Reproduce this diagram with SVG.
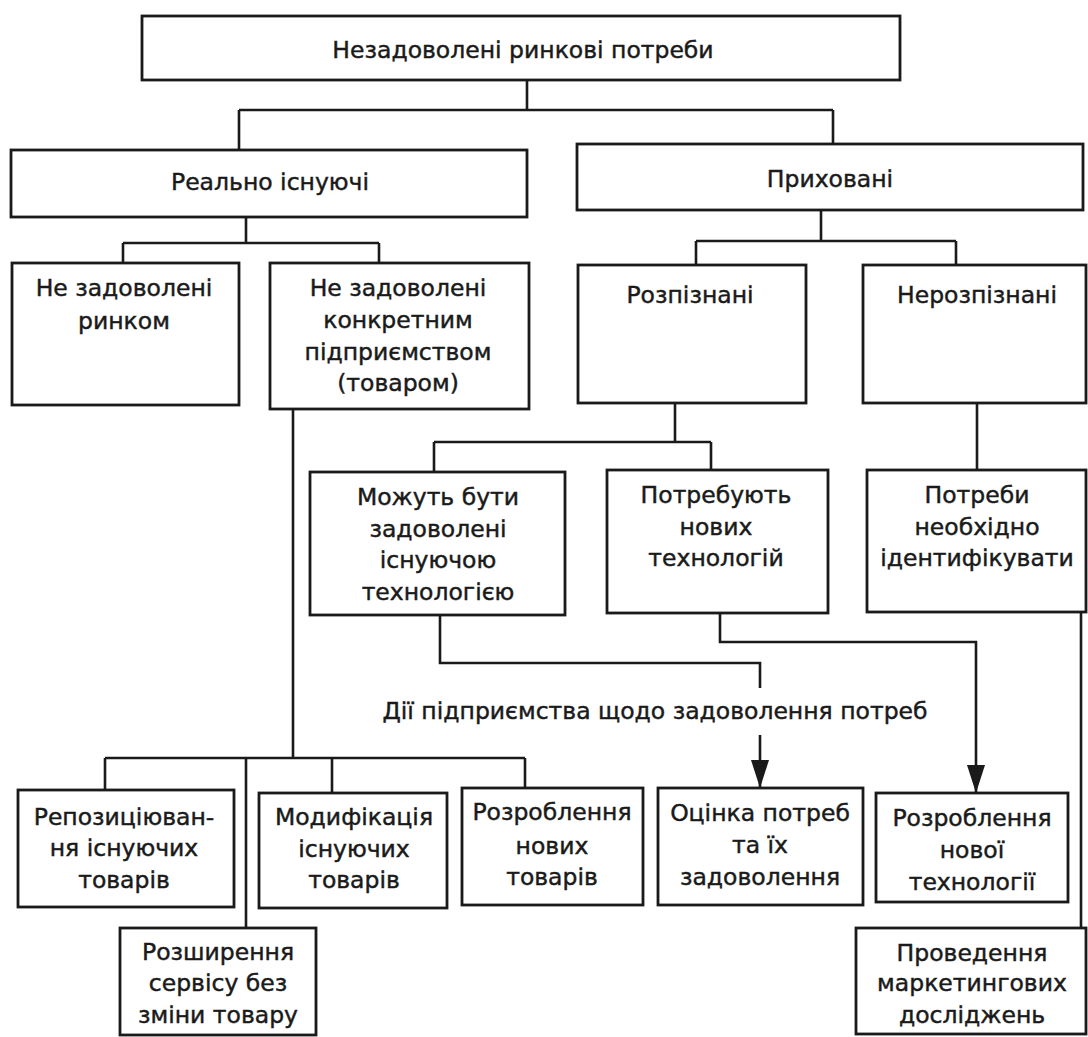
<svg xmlns="http://www.w3.org/2000/svg" width="1088" height="1037" viewBox="0 0 1088 1037">
<defs>
<style>
.box{fill:none;stroke:#1a1a1a;stroke-width:2.8}
.ln{fill:none;stroke:#1a1a1a;stroke-width:2.6}
text{font-family:"DejaVu Sans","Liberation Sans",sans-serif;font-size:23.5px;fill:#1a1a1a;stroke:#1a1a1a;stroke-width:0.45;text-anchor:middle;dominant-baseline:central}
</style>
<marker id="arr" viewBox="0 0 28 18" refX="28" refY="9" markerWidth="28" markerHeight="18" markerUnits="userSpaceOnUse" orient="auto">
<path d="M0,0 L28,9 L0,18 z" fill="#1a1a1a"/>
</marker>
</defs>
<rect width="1088" height="1037" fill="#ffffff"/>

<g id="connectors">
<path class="ln" d="M527,80 V110 M239,110 H833 M239,110 V150 M833,110 V144"/>
<path class="ln" d="M246,217 V243 M123,243 H379 M123,243 V263 M379,243 V263"/>
<path class="ln" d="M821,210 V241 M696,241 H956 M696,241 V265 M956,241 V265"/>
<path class="ln" d="M675,403 V442 M434,442 H711 M434,442 V472 M711,442 V470"/>
<path class="ln" d="M977,403 V470"/>
<path class="ln" d="M293,409 V758 M105,758 H525 M105,758 V790 M332,758 V793 M525,758 V788 M246,758 V928"/>
<path class="ln" d="M440,615 V663 H760 V688"/>
<path class="ln" d="M760,735 V788" marker-end="url(#arr)"/>
<path class="ln" d="M720,613 V642 H976 V793" marker-end="url(#arr)"/>
<path class="ln" d="M1081,612 V928"/>
</g>

<g id="n-root"><rect class="box" x="142" y="16" width="758" height="64"/><text x="523" y="50">Незадоволені ринкові потреби</text></g>
<g id="n-real"><rect class="box" x="11" y="150" width="516" height="67"/><text x="270" y="182">Реально існуючі</text></g>
<g id="n-hidden"><rect class="box" x="577" y="144" width="506" height="66"/><text x="830" y="179">Приховані</text></g>
<g id="n-market"><rect class="box" x="12" y="263" width="227" height="142"/><text x="124" y="288">Не задоволені</text><text x="124" y="321">ринком</text></g>
<g id="n-firm"><rect class="box" x="270" y="263" width="259" height="146"/><text x="398" y="288">Не задоволені</text><text x="398" y="320">конкретним</text><text x="398" y="352">підприємством</text><text x="398" y="383">(товаром)</text></g>
<g id="n-recog"><rect class="box" x="578" y="265" width="228" height="138"/><text x="690" y="295">Розпізнані</text></g>
<g id="n-unrecog"><rect class="box" x="863" y="265" width="223" height="138"/><text x="977" y="295">Нерозпізнані</text></g>
<g id="n-existing-tech"><rect class="box" x="310" y="472" width="255" height="143"/><text x="438" y="497">Можуть бути</text><text x="438" y="529">задоволені</text><text x="438" y="560">існуючою</text><text x="438" y="592">технологією</text></g>
<g id="n-new-tech"><rect class="box" x="607" y="470" width="221" height="143"/><text x="716" y="495">Потребують</text><text x="716" y="527">нових</text><text x="716" y="558">технологій</text></g>
<g id="n-identify"><rect class="box" x="867" y="470" width="219" height="142"/><text x="977" y="495">Потреби</text><text x="977" y="527">необхідно</text><text x="977" y="558">ідентифікувати</text></g>

<g id="label-actions"><text x="655" y="711">Дії підприємства щодо задоволення потреб</text></g>

<g id="n-repos"><rect class="box" x="18" y="790" width="216" height="117"/><text x="124" y="817">Репозиціюван-</text><text x="124" y="848">ня існуючих</text><text x="124" y="880">товарів</text></g>
<g id="n-modif"><rect class="box" x="259" y="793" width="188" height="115"/><text x="354" y="817">Модифікація</text><text x="354" y="849">існуючих</text><text x="354" y="880">товарів</text></g>
<g id="n-newprod"><rect class="box" x="462" y="788" width="181" height="117"/><text x="552" y="812">Розроблення</text><text x="552" y="846">нових</text><text x="552" y="877">товарів</text></g>
<g id="n-assess"><rect class="box" x="658" y="788" width="205" height="117"/><text x="760" y="813">Оцінка потреб</text><text x="760" y="845">та їх</text><text x="760" y="877">задоволення</text></g>
<g id="n-newtech"><rect class="box" x="876" y="793" width="192" height="109"/><text x="972" y="818">Розроблення</text><text x="972" y="850">нової</text><text x="972" y="882">технології</text></g>
<g id="n-service"><rect class="box" x="120" y="928" width="196" height="107"/><text x="218" y="952">Розширення</text><text x="218" y="983">сервісу без</text><text x="218" y="1015">зміни товару</text></g>
<g id="n-research"><rect class="box" x="856" y="928" width="230" height="106"/><text x="972" y="953">Проведення</text><text x="972" y="983">маркетингових</text><text x="972" y="1015">досліджень</text></g>
</svg>
